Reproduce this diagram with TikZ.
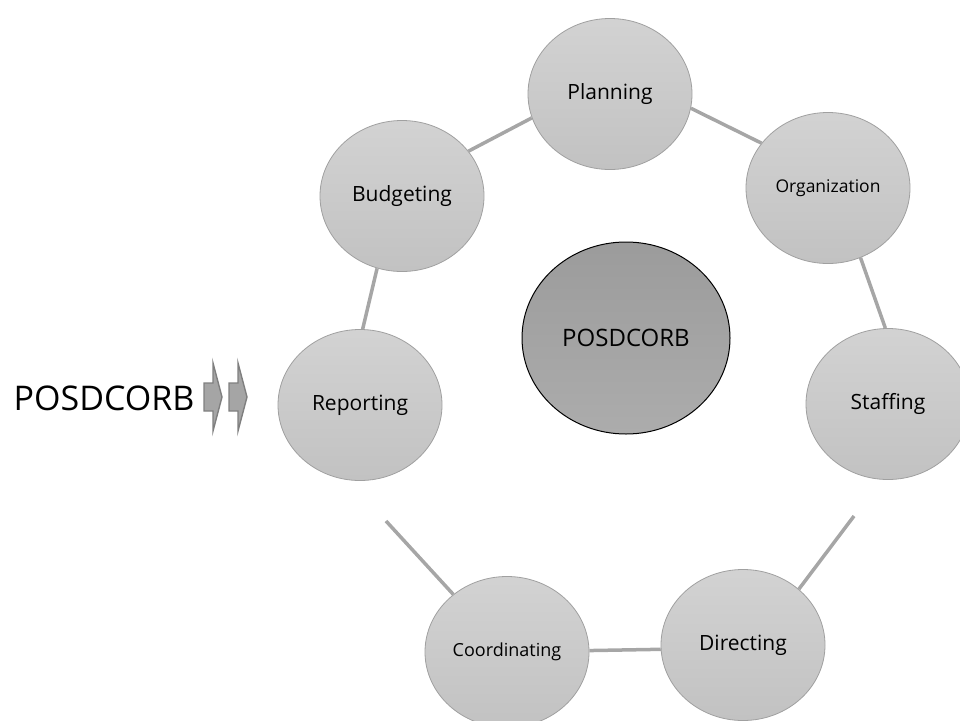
\documentclass[tikz,border=0pt]{standalone}
\usepackage{fontspec}
\setmainfont{Open Sans}
\usetikzlibrary{shapes.geometric}
\definecolor{linkgray}{HTML}{A6A6A6}
\definecolor{rimgray}{HTML}{A0A0A0}
\definecolor{arrowfill}{HTML}{A5A5A5}
\definecolor{arrowedge}{HTML}{7F7F7F}
\begin{document}
\begin{tikzpicture}[x=1pt,y=-1pt,
  stage/.style={ellipse, draw=rimgray, line width=0.8pt,
    top color=gray!35, bottom color=gray!48,
    minimum width=164pt, minimum height=151pt, inner sep=0pt,
    font=\fontsize{21}{24}\selectfont},
  hub/.style={ellipse, draw=black, line width=1pt,
    top color=gray!78, bottom color=gray!95!black!62,
    minimum width=208pt, minimum height=192pt, inner sep=0pt,
    font=\fontsize{24}{28}\selectfont},
  link/.style={draw=linkgray, line width=3.5pt},
  blockarrow/.style={fill=arrowfill, draw=arrowedge, line width=1.4pt, line join=miter}]
\useasboundingbox (0,0) rectangle (960,720);
\clip (0,0) rectangle (960,720);

% central hub
\node[hub] (hub) at (626,338) {POSDCORB};

% the seven functions
\node[stage] (plan)  at (610,94)  {Planning};
\node[stage, font=\fontsize{17.5}{20}\selectfont] (org) at (828,188) {Organization};
\node[stage] (staff) at (888,404) {Staffing};
\node[stage] (dir)   at (743,645) {Directing};
\node[stage, font=\fontsize{18}{20}\selectfont] (coord) at (507,652) {Coordinating};
\node[stage] (rep)   at (360,405) {Reporting};
\node[stage] (bud)   at (402,196) {Budgeting};

% links between neighbouring functions
\coordinate (sdfree) at (854,516);
\coordinate (rcfree) at (386,521);
\draw[link] (bud.34)   -- (plan.197);
\draw[link] (plan.-10) -- (org.146);
\draw[link] (org.-65)  -- (staff.92);
\draw[link] (sdfree)   -- (dir.45);
\draw[link] (coord.1)  -- (dir.183);
\draw[link] (rcfree)   -- (coord.133);
\draw[link] (bud.251)  -- (rep.88);

% title with block arrows
\node[anchor=base, font=\fontsize{34}{40}\selectfont] (title) at (104,410) {POSDCORB};
\draw[blockarrow] (204,383) -- (213,383) -- (213,363) -- (222,397) -- (213,431) -- (213,411) -- (204,411) -- cycle;
\draw[blockarrow] (229,383) -- (238,383) -- (238,363) -- (247,397) -- (238,431) -- (238,411) -- (229,411) -- cycle;
\end{tikzpicture}
\end{document}
